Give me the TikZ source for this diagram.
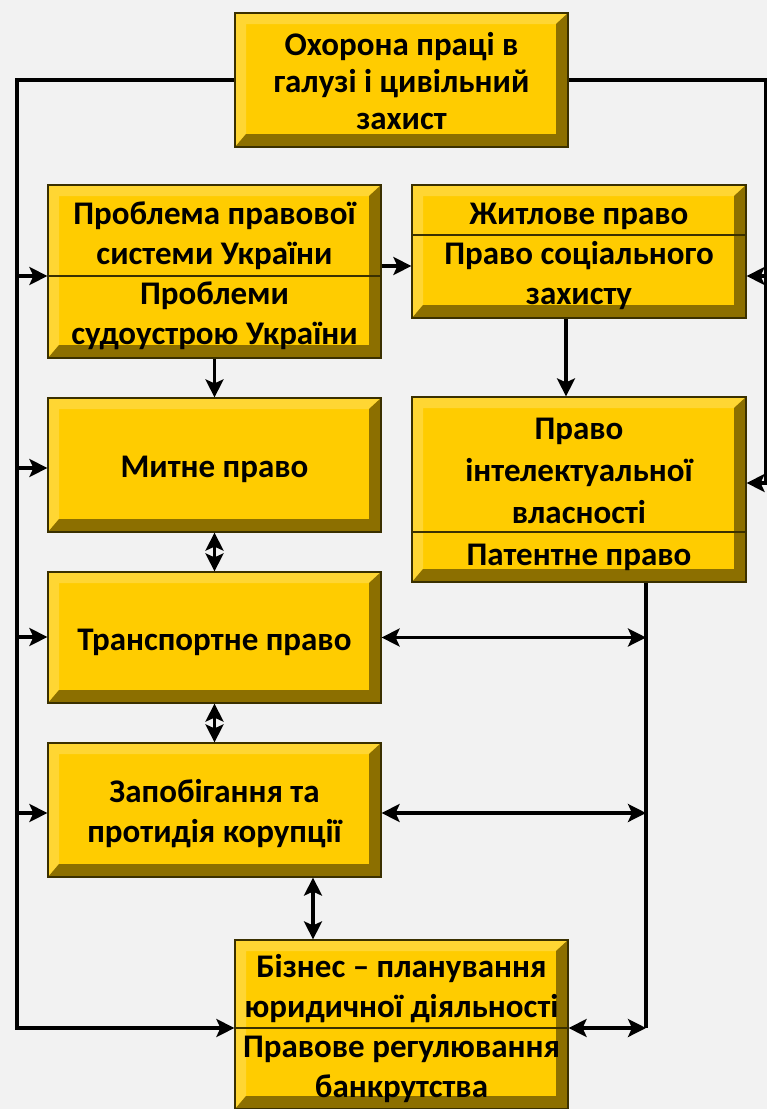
\documentclass[tikz,border=0pt]{standalone}
\usepackage{fontspec}
\setmainfont{Carlito}
\usetikzlibrary{arrows.meta}
\definecolor{face}{HTML}{FFCC00}
\definecolor{bevlight}{HTML}{FFD633}
\definecolor{bevdark}{HTML}{8C6F00}
\definecolor{edge}{HTML}{3A3000}
\definecolor{bg}{HTML}{F2F2F2}
% fixed first-line height and last-line depth, so all boxes centre their text alike
\newcommand{\ttop}{\rule{0pt}{34pt}}
\newcommand{\tbot}{\rule[-9pt]{0pt}{9pt}}
\tikzset{
  block/.style={rectangle, fill=face, draw=edge, line width=1.2pt, inner sep=0pt,
    align=center, font=\fontsize{33}{40}\selectfont\bfseries,
    path picture={
      \fill[bevlight] (path picture bounding box.north west) -- (path picture bounding box.north east)
        -- ([shift={(-12pt,-11pt)}]path picture bounding box.north east)
        -- ([shift={(11pt,-11pt)}]path picture bounding box.north west)
        -- ([shift={(11pt,13pt)}]path picture bounding box.south west)
        -- (path picture bounding box.south west) -- cycle;
      \fill[bevdark] (path picture bounding box.south east) -- (path picture bounding box.south west)
        -- ([shift={(11pt,13pt)}]path picture bounding box.south west)
        -- ([shift={(-12pt,13pt)}]path picture bounding box.south east)
        -- ([shift={(-12pt,-11pt)}]path picture bounding box.north east)
        -- (path picture bounding box.north east) -- cycle;
    }},
  wire/.style={line width=3.2pt, black, >={Stealth[length=18pt,width=18pt,inset=4pt]}},
  divider/.style={line width=1.8pt, edge}
}
\begin{document}
\begin{tikzpicture}[x=1pt, y=-1pt]
    \fill[bg] (0,0) rectangle (767,1109);
    \useasboundingbox (0,0) rectangle (767,1109);

    \node[block, minimum width=333pt, minimum height=134pt, font=\fontsize{33}{37}\selectfont\bfseries] (ohorona) at (401.5,80) {\ttop Охорона праці в\\галузі і цивільний\\захист\tbot};
    \node[block, minimum width=333pt, minimum height=173pt] (problem) at (214.5,271.5) {\ttop Проблема правової\\системи України\\Проблеми\\судоустрою України\tbot};
    \node[block, minimum width=334pt, minimum height=133pt] (zhytlo) at (579,251.5) {\ttop Житлове право\\Право соціального\\захисту\tbot};
    \node[block, minimum width=333pt, minimum height=134pt] (mytne) at (214.5,465) {\ttop Митне право\tbot};
    \node[block, minimum width=334pt, minimum height=185pt, font=\fontsize{33}{42}\selectfont\bfseries] (intel) at (579,489.5) {\ttop Право\\інтелектуальної\\власності\\Патентне право\tbot};
    \node[block, minimum width=333pt, minimum height=131pt] (transport) at (214.5,637.5) {\ttop Транспортне право\tbot};
    \node[block, minimum width=333pt, minimum height=134pt] (koruptsia) at (214.5,810) {\ttop Запобігання та\\протидія корупції\tbot};
    \node[block, minimum width=333pt, minimum height=169pt] (biznes) at (401.5,1024.5) {\ttop Бізнес -- планування\\юридичної діяльності\\Правове регулювання\\банкрутства\tbot};

    % dividers inside the boxes
    \draw[divider] (problem.west |- 0,276) -- (problem.east |- 0,276);
    \draw[divider] (zhytlo.west |- 0,235) -- (zhytlo.east |- 0,235);
    \draw[divider] (intel.west |- 0,532) -- (intel.east |- 0,532);
    \draw[divider] (biznes.west |- 0,1028) -- (biznes.east |- 0,1028);

    % left bus
    \coordinate (lbot) at (17,1028);
    \draw[wire, ->] (ohorona.west) -| (lbot) -- (lbot -| biznes.west);
    \foreach \n/\y in {problem/276, mytne/468, transport/637, koruptsia/813} {
        \coordinate (tap-\n) at (17,\y);
        \draw[wire, ->] (tap-\n) -- (tap-\n -| \n.west);
    }

    % right bus
    \coordinate (rbot) at (765.5,483);
    \coordinate (rtap) at (765.5,276);
    \draw[wire, ->] (ohorona.east) -| (rbot) -- (rbot -| intel.east);
    \draw[wire, ->] (rtap) -- (rtap -| zhytlo.east);

    % inner bus
    \coordinate (mbot) at (646,1028);
    \draw[wire] (intel.south -| mbot) -- (mbot);
    \draw[wire, <->] (transport.east) -- (transport.east -| mbot);
    \draw[wire, <->] ([yshift=-3pt]koruptsia.east) -- ([yshift=-3pt]koruptsia.east -| mbot);
    \draw[wire, <->] (biznes.east |- mbot) -- (mbot);

    % links between boxes
    \draw[wire, ->] ([yshift=5.5pt]problem.east) -- ([yshift=5.5pt]problem.east -| zhytlo.west);
    \draw[wire, ->] (problem.south) -- (mytne.north);
    \draw[wire, ->] ([xshift=-13pt]zhytlo.south) -- ([xshift=-13pt]intel.north);
    \draw[wire, <->] (mytne.south) -- (transport.north);
    \draw[wire, <->] (transport.south) -- (koruptsia.north);
    \draw[wire, <->] ([xshift=98.5pt]koruptsia.south) -- ([xshift=98.5pt]koruptsia.south |- biznes.north);
\end{tikzpicture}
\end{document}
